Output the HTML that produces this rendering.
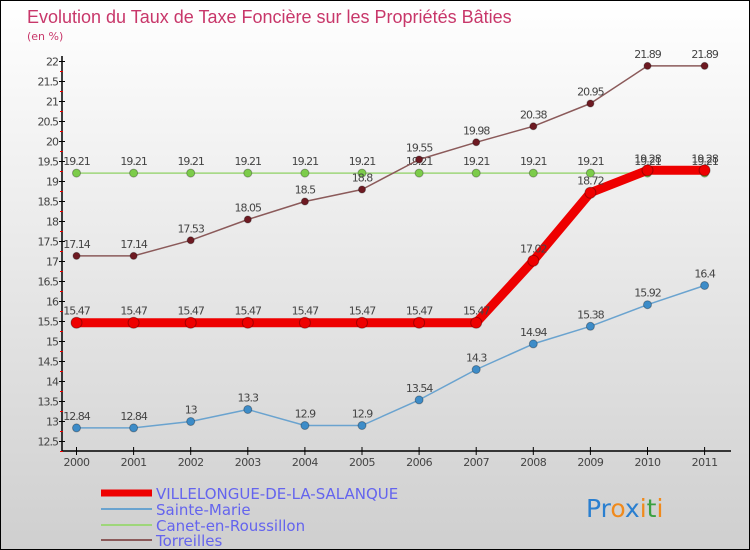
<!DOCTYPE html>
<html><head><meta charset="utf-8"><style>
body{margin:0;}
#c{position:relative;width:748px;height:548px;border:1px solid #000;background:linear-gradient(#ffffff,#cfcfcf);font-family:"DejaVu Sans","Liberation Sans",sans-serif;overflow:hidden}
svg text{font-family:"DejaVu Sans","Liberation Sans",sans-serif;}
</style></head><body>
<div id="c">
<svg id="s" width="748" height="548" xmlns="http://www.w3.org/2000/svg">
<text x="26" y="22" font-size="18" fill="#c8376a" style="font-family:'Liberation Sans',sans-serif">Evolution du Taux de Taxe Foncière sur les Propriétés Bâties</text>
<text x="26" y="39" font-size="11" fill="#c8376a">(en %)</text>
<g id="axes"></g><g id="series"></g>
<g>
<line x1="100" y1="492" x2="151" y2="492" stroke="#e00" stroke-width="7"/>
<text x="155" y="498" font-size="15" fill="#6464ee">VILLELONGUE-DE-LA-SALANQUE</text>
<line x1="100" y1="508" x2="151" y2="508" stroke="#6aa3cf" stroke-width="2"/>
<text x="155" y="514" font-size="15" fill="#6464ee">Sainte-Marie</text>
<line x1="100" y1="524" x2="151" y2="524" stroke="#9ed67a" stroke-width="2"/>
<text x="155" y="530" font-size="15" fill="#6464ee">Canet-en-Roussillon</text>
<line x1="100" y1="539" x2="151" y2="539" stroke="#8b5a5a" stroke-width="2"/>
<text x="155" y="545" font-size="15" fill="#6464ee">Torreilles</text>
</g>
<text x="585" y="516" font-size="25"><tspan fill="#2a7fd0">Pr</tspan><tspan fill="#f08a1c">o</tspan><tspan fill="#2a7fd0">x</tspan><tspan fill="#f08a1c">i</tspan><tspan fill="#3aa040">t</tspan><tspan fill="#f08a1c">i</tspan></text>
</svg>
</div>
<script>
const years=[2000,2001,2002,2003,2004,2005,2006,2007,2008,2009,2010,2011];
const yTicks=[12.5,13,13.5,14,14.5,15,15.5,16,16.5,17,17.5,18,18.5,19,19.5,20,20.5,21,21.5,22];
const villelongue=[15.47,15.47,15.47,15.47,15.47,15.47,15.47,15.47,17.02,18.72,19.28,19.28];
const sainteMarie=[12.84,12.84,13,13.3,12.9,12.9,13.54,14.3,14.94,15.38,15.92,16.4];
const canet=[19.21,19.21,19.21,19.21,19.21,19.21,19.21,19.21,19.21,19.21,19.21,19.21];
const torreilles=[17.14,17.14,17.53,18.05,18.5,18.8,19.55,19.98,20.38,20.95,21.89,21.89];
const NS="http://www.w3.org/2000/svg";
const X=i=>75.5+i*57.1;
const Y=v=>440.5-(v-12.5)*40;
function mk(t,a,p){const e=document.createElementNS(NS,t);for(const k in a)e.setAttribute(k,a[k]);p.appendChild(e);return e;}
const ax=document.getElementById('axes');
let e=mk('line',{x1:61,y1:55,x2:61,y2:450,stroke:'#000','stroke-width':1.5},ax);


e=mk('line',{x1:61,y1:450,x2:730,y2:450,stroke:'#000','stroke-width':1.5},ax);


yTicks.forEach(v=>{
  mk('line',{x1:58,y1:Y(v),x2:64,y2:Y(v),stroke:'#000'},ax);
  mk('line',{x1:59,y1:Y(v)+10,x2:62,y2:Y(v)+10,stroke:'#e00'},ax);
  const t=mk('text',{x:57,y:Y(v)+4,'font-size':11,'text-anchor':'end',fill:'#444','letter-spacing':'-1'},ax);
  
  
  t.textContent=v;
});
years.forEach((y,i)=>{
  mk('line',{x1:X(i),y1:446,x2:X(i),y2:454,stroke:'#000'},ax);
  const t=mk('text',{x:X(i),y:465,'font-size':11,'text-anchor':'middle',fill:'#444','letter-spacing':'-0.5'},ax);
  
  
  t.textContent=y;
});
const sg=document.getElementById('series');
function series(data,name,color,w,r,dot){
  const g=mk('g',{},sg);
  
  
  const l=mk('polyline',{points:data.map((v,i)=>X(i)+','+Y(v)).join(' '),fill:'none',stroke:color,'stroke-width':w,'stroke-linejoin':'round'},g);
  
  
  data.forEach((v,i)=>{
    const c=mk('circle',{cx:X(i),cy:Y(v),r:r,fill:dot,stroke:'rgba(0,0,0,0.3)'},g);
    
    
    const t=mk('text',{x:X(i),y:Y(v)-8,'font-size':11,'text-anchor':'middle',fill:'#444','letter-spacing':'-1'},g);
    
    
    t.textContent=v;
  });
}
series(sainteMarie,'sainte-marie','#6aa3cf',1.5,4,'#3d8cc8');
series(canet,'canet','#9ed67a',1.5,4,'#7ccc4a');
series(torreilles,'torreilles','#8b5a5a',1.5,3.5,'#6e1a22');
series(villelongue,'villelongue','#e00',9,5.5,'#e00');
</script>
</body></html>
